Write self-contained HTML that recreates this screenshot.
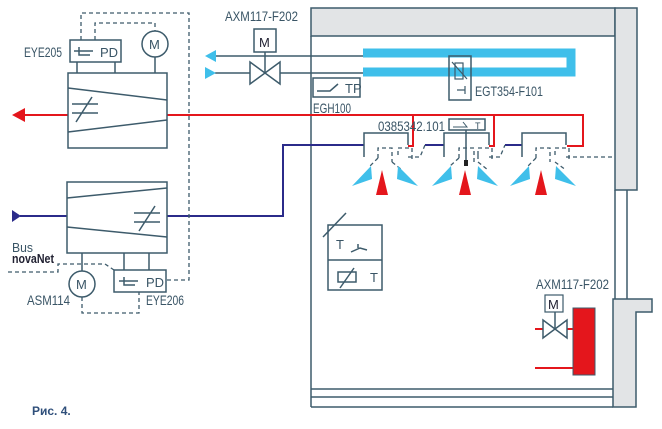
<!DOCTYPE html>
<html><head><style>body{margin:0;background:#fff}svg{display:block}text{font-family:"Liberation Sans",sans-serif;fill:#3a5566}</style></head><body>
<svg width="662" height="429" viewBox="0 0 662 429" xmlns="http://www.w3.org/2000/svg">
<g stroke="#3d5b6b" stroke-width="1.5" fill="none">
<rect x="311" y="8" width="304" height="28" fill="#e2e4e6"/>
<rect x="615" y="8" width="22" height="182" fill="#e2e4e6"/>
<line x1="311" y1="36" x2="311" y2="407"/>
<line x1="615" y1="190" x2="615" y2="299"/>
<line x1="627" y1="190" x2="627" y2="299"/>
<path d="M613,299H652V312H636V407H613Z" fill="#e2e4e6"/>
<line x1="311" y1="389" x2="613" y2="389"/>
<line x1="311" y1="397" x2="613" y2="397"/>
<line x1="311" y1="407" x2="613" y2="407"/>
</g>
<path d="M363,53H571V72H363" stroke="#3fbfea" stroke-width="9" fill="none"/>
<g stroke="#e4161c" stroke-width="2" fill="none">
<path d="M25,115H583V146H567"/>
<path d="M413,115V146H408"/>
<path d="M494,115V146H489"/>
<line x1="535" y1="329" x2="543" y2="329"/><line x1="567" y1="329" x2="573" y2="329"/>
<line x1="535" y1="368" x2="573" y2="368"/>
</g>
<g stroke="#2b2b8a" stroke-width="2" fill="none">
<path d="M20,216H283V145H364"/>
<line x1="425" y1="145" x2="444" y2="145"/><line x1="505" y1="145" x2="522" y2="145"/>
</g>
<g stroke="#3d5b6b" stroke-width="1.3" fill="none" stroke-dasharray="4,3">
<path d="M81,40V13H189V280H166"/>
<path d="M95,40V23H155V31"/>
<path d="M8,272H58V264H105L114,270"/>
<path d="M82,297V313H139V292"/>
<path d="M378,158V148H392V162M398,155V148H412V160M408,157H420L425,145"/>
<path d="M459,158V148H474V162M478,155V148H492V160M489,157H500L505,145"/>
<path d="M536,158V148H550V162M555,155V148H569V160M566,157H615"/>
<path d="M378,158L370,166M392,162L402,170M459,158L450,166M478,155V162L488,170M536,158L528,166M555,162L566,170"/>
</g>
<g stroke="#3d5b6b" stroke-width="1.5" fill="none">
<line x1="215" y1="56" x2="363" y2="56"/>
<line x1="215" y1="73" x2="250" y2="73"/><line x1="280" y1="73" x2="363" y2="73"/>
<path d="M250,62V84L280,62V84Z" fill="#fff"/>
<line x1="265" y1="52" x2="265" y2="73"/>
<rect x="254" y="29" width="22" height="23" fill="#fff"/>
<rect x="449" y="56" width="22" height="44"/>
<rect x="455" y="63" width="8" height="16" stroke-width="1.2"/>
<line x1="452" y1="62" x2="467" y2="79" stroke-width="1.2"/>
<path d="M457,90H465M465,86V94" stroke-width="1.2"/>
<rect x="313" y="78" width="47" height="19"/>
<path d="M317,91H330L338,84"/>
<rect x="70" y="40" width="51" height="22" fill="#fff"/>
<circle cx="155" cy="44" r="13" fill="#fff"/>
<line x1="155" y1="57" x2="155" y2="73"/>
<line x1="77" y1="62" x2="77" y2="73"/><line x1="115" y1="62" x2="115" y2="73"/>
<rect x="68" y="73" width="99" height="75" fill="#fff"/>
<path d="M68,88L167,100M68,132L167,120"/>
<path d="M72,104H98M72,113H98M76,122L92,97"/>
<rect x="67" y="182" width="100" height="71" fill="#fff"/>
<path d="M67,198L167,188M67,227L167,237"/>
<path d="M134,213H160M134,222H160M139,231L155,206"/>
<line x1="82" y1="253" x2="82" y2="271"/><line x1="124" y1="253" x2="124" y2="270"/><line x1="149" y1="253" x2="149" y2="270"/>
<rect x="114" y="270" width="52" height="22" fill="#fff"/>
<circle cx="82" cy="284" r="13" fill="#fff"/>
<path d="M119,281H138M124,277V285H135"/>
<path d="M74,51H93M79,47V55H90"/>
<rect x="328" y="225" width="54" height="65"/>
<line x1="328" y1="260" x2="382" y2="260"/>
<line x1="323" y1="237" x2="346" y2="213"/>
<rect x="338" y="272" width="18" height="10"/>
<line x1="340" y1="288" x2="354" y2="268"/>
<path d="M351,252L360,248L367,250M358,244V248"/>
<path d="M364,157V133H408V145"/><path d="M444,157V133H489V145"/><path d="M522,157V133H566V145"/>
<rect x="449" y="119" width="36" height="11" fill="#fff"/>
<path d="M453,127H467L463,122" stroke-width="1"/>
<line x1="466" y1="130" x2="466" y2="160"/>
<rect x="545" y="295" width="18" height="17" stroke-width="1.2"/>
<line x1="555" y1="312" x2="555" y2="328"/>
<path d="M543,320V338L567,320V338Z"/>
</g>
<rect x="464" y="160" width="4" height="6" fill="#222"/>
<path d="M12,115L25,108V122Z" fill="#e4161c"/>
<rect x="573" y="308" width="22" height="67" fill="#e4161c" stroke="#3d5b6b" stroke-width="1"/>
<path d="M12,210L21,216L12,222Z" fill="#2b2b8a"/>
<g fill="#3fbfea">
<path d="M205,56L216,50V62Z"/><path d="M205,67L216,73L205,79Z"/>
<path d="M352,186L371,166L372,179Z"/><path d="M418,186L398,166L397,179Z"/>
<path d="M432,186L451,166L452,179Z"/><path d="M498,186L478,166L477,179Z"/>
<path d="M510,186L529,166L530,179Z"/><path d="M576,186L556,166L555,179Z"/>
</g>
<g fill="#e4161c">
<path d="M382,170L376,195H388Z"/><path d="M465,170L459,195H471Z"/><path d="M541,170L535,195H547Z"/>
</g>
<g font-size="14">
<text x="225" y="21" textLength="73" lengthAdjust="spacingAndGlyphs">AXM117-F202</text>
<text x="259" y="47" font-size="13" style="fill:#223">M</text>
<text x="24" y="57" textLength="38" lengthAdjust="spacingAndGlyphs">EYE205</text>
<text x="100" y="57" font-size="13">PD</text>
<text x="149" y="49" font-size="13">M</text>
<text x="345" y="93" font-size="13">TP</text>
<text x="313" y="113" textLength="38" lengthAdjust="spacingAndGlyphs">EGH100</text>
<text x="475" y="96" textLength="68" lengthAdjust="spacingAndGlyphs">EGT354-F101</text>
<text x="378" y="131" textLength="67" lengthAdjust="spacingAndGlyphs">0385342.101</text>
<text x="475" y="129" font-size="9">T</text>
<text x="12" y="252" font-size="13" textLength="21" lengthAdjust="spacingAndGlyphs">Bus</text>
<text x="12" y="263" font-size="13" font-weight="bold" style="fill:#223" textLength="42" lengthAdjust="spacingAndGlyphs">novaNet</text>
<text x="76" y="289" font-size="13">M</text>
<text x="146" y="287" font-size="13">PD</text>
<text x="27" y="305" textLength="43" lengthAdjust="spacingAndGlyphs">ASM114</text>
<text x="146" y="305" textLength="38" lengthAdjust="spacingAndGlyphs">EYE206</text>
<text x="336" y="249" font-size="13">T</text>
<text x="370" y="282" font-size="13">T</text>
<text x="536" y="289" textLength="73" lengthAdjust="spacingAndGlyphs">AXM117-F202</text>
<text x="548" y="309" font-size="13" style="fill:#223">M</text>
<text x="32" y="415" font-size="12" font-weight="bold" style="fill:#2f4f7a">Рис. 4.</text>
</g>
</svg>
</body></html>
